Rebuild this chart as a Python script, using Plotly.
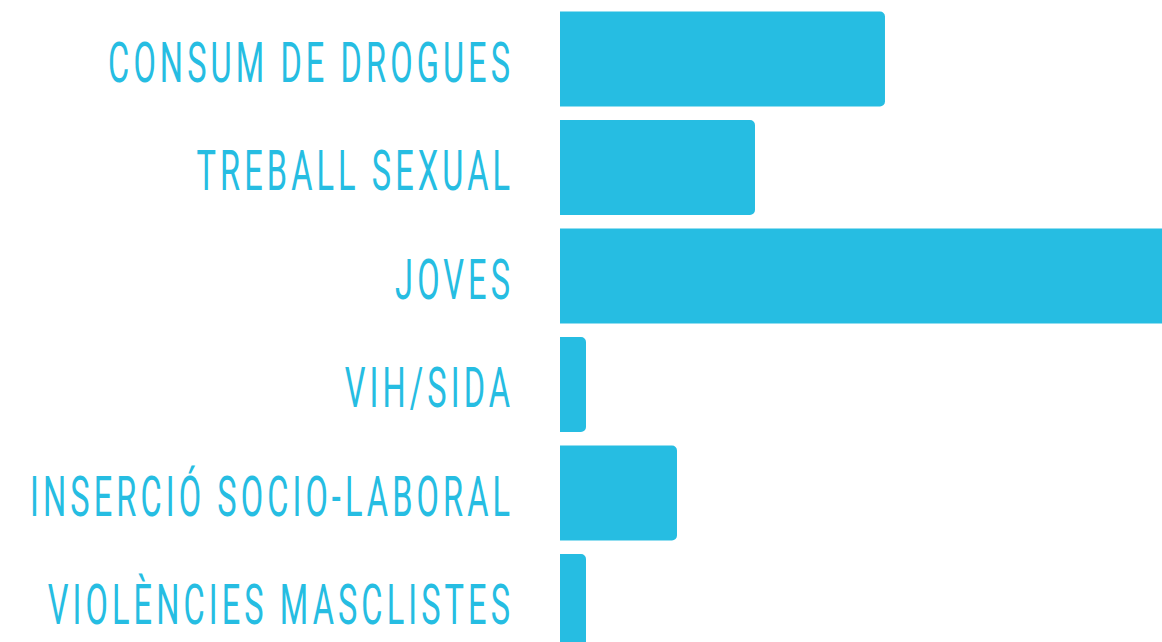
import json
import plotly.graph_objects as go

categories = ["CONSUM DE DROGUES", "TREBALL SEXUAL", "JOVES", "VIH/SIDA",
              "INSERCIÓ SOCIO-LABORAL", "VIOLÈNCIES MASCLISTES"]
values = [25, 15, 50, 2, 9, 2]

COLOR = "#26BDE2"

fig = go.Figure(go.Bar(
    x=values, y=categories, orientation="h",
    marker=dict(color=COLOR, cornerradius=5, line=dict(width=0)),
    hoverinfo="skip",
))

fig.update_layout(
    width=1162, height=642,
    margin=dict(l=560, r=0, t=0, b=0, autoexpand=False),
    paper_bgcolor="white", plot_bgcolor="white",
    bargap=0.124,
    showlegend=False,
    xaxis=dict(range=[0, 46.31], visible=False, fixedrange=True, automargin=False),
    yaxis=dict(
        range=[5.373, -0.544], showgrid=False, zeroline=False, showline=False,
        ticks="", ticklabelstandoff=49, fixedrange=True, automargin=False,
        tickfont=dict(family="Roboto", size=56, color=COLOR),
    ),
)

post = """
document.body.style.margin = '0';
var gd = document.getElementById('{plot_id}');
var ref = %s;
var ls = 7;
function fixLabels() {
  var texts = gd.querySelectorAll('.ytick text');
  var sx = null;
  texts.forEach(function(t){ t.style.letterSpacing = ls + 'px'; });
  texts.forEach(function(t){
    if (t.textContent === ref) { sx = 402 / (t.getComputedTextLength() - ls); }
  });
  if (!sx) return;
  texts.forEach(function(t){
    var X = parseFloat(t.getAttribute('x')) || 0;
    var old = t.getAttribute('data-orig-tf');
    if (old === null) { old = t.getAttribute('transform') || ''; t.setAttribute('data-orig-tf', old); }
    t.setAttribute('transform', old + ' translate(' + X + ',3) scale(' + sx + ',1) translate(' + (-X + ls) + ',0)');
  });
}
fixLabels();
""" % json.dumps(categories[0])

fig.write_html("out.html", post_script=post, config={"displayModeBar": False})
